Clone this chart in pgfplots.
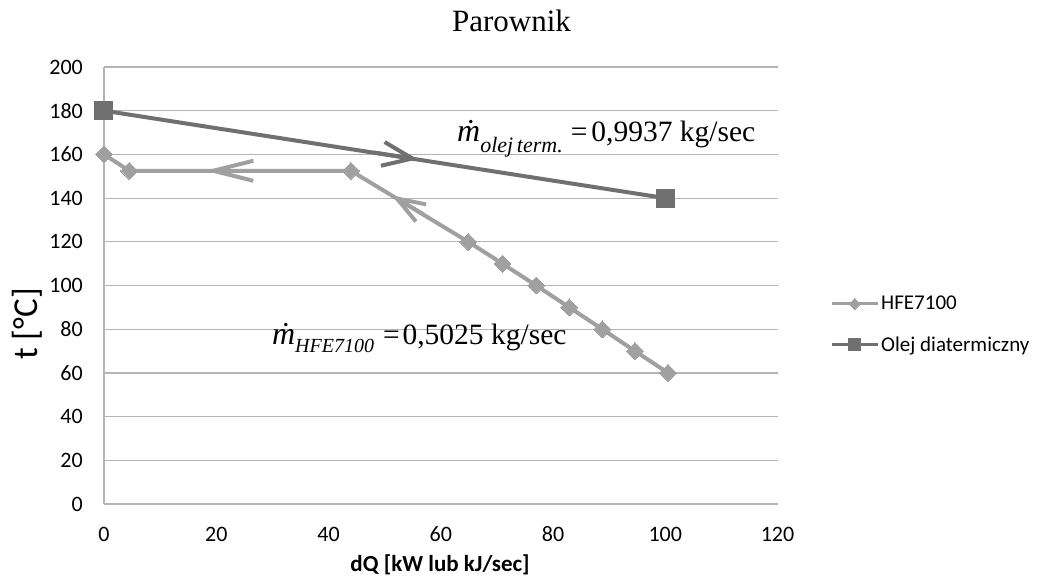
\documentclass[border=0pt]{standalone}
\usepackage{pgfplots}
\pgfplotsset{compat=1.18}
\usepackage{fontspec}
\setmainfont{Liberation Serif}
\newfontfamily\calibri{Carlito}
\usetikzlibrary{arrows.meta}
\definecolor{hfe}{RGB}{160,160,160}
\definecolor{olej}{RGB}{112,112,112}
\definecolor{gridc}{RGB}{180,180,180}
\begin{document}
\begin{tikzpicture}
\begin{axis}[
  name=ax,
  scale only axis, width=673.5pt, height=437pt,
  xmin=0, xmax=120, ymin=0, ymax=200,
  xtick={0,20,...,120}, ytick={0,20,...,200},
  major tick length=0pt,
  axis x line*=bottom, axis y line*=left,
  axis line style={draw=gridc, line width=1.2pt, -},
  ymajorgrids, grid style={draw=gridc, line width=1.2pt},
  /pgf/number format/assume math mode=true,
  tick label style={font=\calibri\fontsize{22}{26}\selectfont, inner sep=0pt},
  yticklabel style={anchor=east, xshift=-21pt},
  xticklabel style={anchor=base, yshift=-37pt},
  title={\fontsize{31}{36}\selectfont Parownik},
  title style={at={(0.605,1.0664)}, anchor=base},
  xlabel={\calibri\bfseries\fontsize{23}{26}\selectfont dQ [kW lub kJ/sec]},
  xlabel style={at={(0.499,-0.1396)}, anchor=center},
  ylabel={\calibri\fontsize{35}{38}\selectfont t [°C]},
  ylabel style={at={(-0.1136,0.412)}, anchor=center},
  legend style={at={(1.078,0.411)}, anchor=west, draw=none, fill=none, inner sep=0pt,
    font=\calibri\fontsize{21}{24}\selectfont, row sep=21pt},
  legend cell align=left,
  legend image code/.code={\draw[#1, line width=3pt, every mark/.append style={scale=0.65}, mark repeat=2, mark phase=2] plot coordinates {(0pt,0pt) (23pt,0pt) (46pt,0pt)};},
]
\addplot[hfe, line width=4pt, mark=square*, mark size=6pt, mark options={rotate=45, line width=0pt, fill=hfe}]
  coordinates {(0,160) (4.5,152.5) (44,152.5) (64.9,120) (71,110) (77,100) (82.9,90) (88.8,80) (94.6,70) (100.5,60)};
\addlegendentry{HFE7100}
\addplot[olej, line width=4pt, mark=square*, mark size=9pt, mark options={line width=0pt, fill=olej}]
  coordinates {(0,180) (100,140)};
\addlegendentry{Olej diatermiczny}
\addplot[olej, line width=4pt, -{Straight Barb[length=30pt, width=24pt, line width=4pt]}, forget plot]
  coordinates {(48,160.9) (55.9,157.75)};
\addplot[hfe, line width=4pt, -{Straight Barb[length=40pt, width=20pt, line width=4pt]}, forget plot]
  coordinates {(26,152.5) (18,152.5)};
\addplot[hfe, line width=4pt, -{Straight Barb[length=28pt, width=20pt, line width=4pt]}, forget plot]
  coordinates {(57,132.4) (51.3,141.2)};
\node[anchor=base west, inner sep=0pt] at (axis cs:29.9,72.8)
  {\fontsize{29.5}{32}\selectfont{\fontsize{32}{34}\selectfont\textit{ṁ}}\raisebox{-8pt}{\fontsize{20}{22}\selectfont\textit{HFE7100}}\hspace{9pt}=\hspace{3pt}0,5025 kg/sec};
\node[anchor=base west, inner sep=0pt] at (axis cs:62.9,165.8)
  {\fontsize{29.5}{32}\selectfont{\fontsize{32}{34}\selectfont\textit{ṁ}}\raisebox{-11pt}{\fontsize{22}{24}\selectfont\textit{olej\,term.}}\hspace{8pt}=\hspace{4pt}0,9937 kg/sec};
\end{axis}
\pgfresetboundingbox
\path[use as bounding box] ([shift={(-104pt,-75pt)}]ax.south west) rectangle ([shift={(940pt,504pt)}]ax.south west);
\end{tikzpicture}
\end{document}
